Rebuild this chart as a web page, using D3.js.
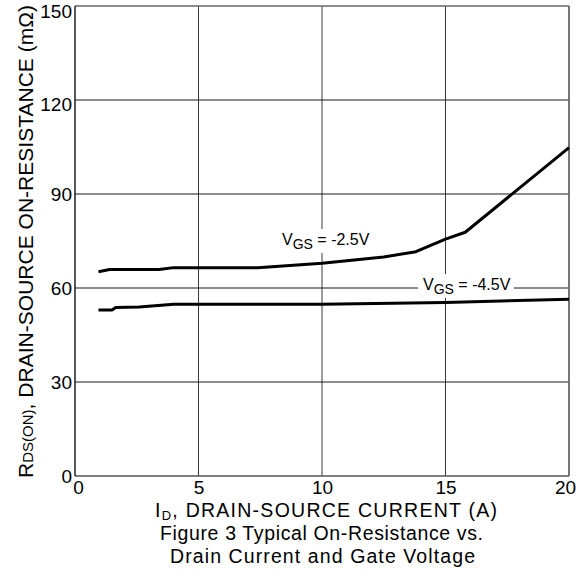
<!DOCTYPE html>
<html>
<head>
<meta charset="utf-8">
<script src="https://cdn.jsdelivr.net/npm/d3@7"></script>
<style>
  html, body { margin: 0; padding: 0; background: #fff; }
  svg { display: block; font-family: "Liberation Sans", Arial, Helvetica, sans-serif; }
</style>
</head>
<body>
<svg id="chart" width="580" height="577"></svg>
<script>
// Drain current (A) and on-resistance (mΩ) for each gate voltage
const idVgs25 = [0.95, 1.4, 3.4, 4.0, 7.4, 10.0, 12.5, 13.8, 15.0, 15.8, 20.0];
const rdsVgs25 = [65.2, 65.9, 65.9, 66.5, 66.5, 67.9, 69.9, 71.6, 75.6, 77.8, 104.8];
const idVgs45 = [0.95, 1.5, 1.65, 2.6, 4.0, 10.0, 15.0, 20.0];
const rdsVgs45 = [53.0, 53.0, 53.8, 53.9, 54.8, 54.8, 55.4, 56.4];

const xTicks = [0, 5, 10, 15, 20];
const yTicks = [0, 30, 60, 90, 120, 150];
const seriesLabels = ["-2.5V", "-4.5V"];

const svg = d3.select("#chart");
const plotL = 75, plotR = 569, plotT = 6, plotB = 476;

const x = d3.scaleLinear().domain([0, 20]).range([plotL, plotR]);
const y = d3.scaleLinear().domain([0, 150]).range([plotB, plotT]);

// Grid lines
const grid = svg.append("g");
grid.selectAll("line.v").data(xTicks.slice(1, -1)).join("line")
  .attr("x1", d => x(d)).attr("x2", d => x(d))
  .attr("y1", plotT).attr("y2", plotB)
  .attr("stroke", "#3a3a3a").attr("stroke-width", 1);
grid.selectAll("line.h").data(yTicks.slice(1, -1)).join("line")
  .attr("x1", plotL).attr("x2", plotR)
  .attr("y1", d => y(d)).attr("y2", d => y(d))
  .attr("stroke", "#1a1a1a").attr("stroke-width", 1);

// Frame
svg.append("line").attr("x1", plotL).attr("x2", plotR).attr("y1", plotT).attr("y2", plotT)
  .attr("stroke", "#666").attr("stroke-width", 1.6);
svg.append("line").attr("x1", plotR).attr("x2", plotR).attr("y1", plotT).attr("y2", plotB)
  .attr("stroke", "#666").attr("stroke-width", 1.8);
svg.append("line").attr("x1", plotL).attr("x2", plotR).attr("y1", plotB).attr("y2", plotB)
  .attr("stroke", "#555").attr("stroke-width", 1.4);
svg.append("line").attr("x1", plotL).attr("x2", plotL).attr("y1", plotT).attr("y2", plotB)
  .attr("stroke", "#111").attr("stroke-width", 1.4);

// Axes tick labels
const xAxis = d3.axisBottom(x).tickValues(xTicks).tickSize(0).tickPadding(0);
const gx = svg.append("g").attr("transform", `translate(0,${plotB})`).call(xAxis);
gx.select(".domain").remove();
gx.selectAll("text").attr("font-size", 19).attr("fill", "#000")
  .attr("font-family", "Liberation Sans, Arial, sans-serif")
  .attr("dy", null).attr("y", 18)
  .attr("dx", d => d === 0 ? 3 : (d === 20 ? -4 : 0));

const yAxis = d3.axisLeft(y).tickValues(yTicks).tickSize(0).tickPadding(3);
const gy = svg.append("g").attr("transform", `translate(${plotL},0)`).call(yAxis);
gy.select(".domain").remove();
gy.selectAll("text").attr("font-size", 19).attr("fill", "#000")
  .attr("font-family", "Liberation Sans, Arial, sans-serif")
  .attr("dy", d => d === 150 ? "0.62em" : (d === 120 ? "0.55em" : "0.35em"));

// Curves
const line = d3.line().x(d => x(d[0])).y(d => y(d[1]));
const s25 = idVgs25.map((v, i) => [v, rdsVgs25[i]]);
const s45 = idVgs45.map((v, i) => [v, rdsVgs45[i]]);
[s25, s45].forEach(s => {
  svg.append("path").datum(s).attr("d", line)
    .attr("fill", "none").attr("stroke", "#000").attr("stroke-width", 3)
    .attr("stroke-linejoin", "round");
});

// Curve labels with white backing
function vgsLabel(px, py, value) {
  const g = svg.append("g");
  const bg = g.append("rect").attr("fill", "#fff");
  const t = g.append("text").attr("x", px).attr("y", py)
    .attr("font-size", 16).attr("fill", "#000");
  t.append("tspan").text("V");
  t.append("tspan").attr("font-size", 14).attr("dy", 4).text("GS");
  t.append("tspan").attr("dy", -4).text(" =  " + value);
  const b = t.node().getBBox();
  bg.attr("x", b.x - 5).attr("y", b.y - 2).attr("width", b.width + 8).attr("height", b.height + 3);
}
vgsLabel(282, 245, seriesLabels[0]);
vgsLabel(423, 290, seriesLabels[1]);

// Axis titles
const xt = svg.append("text").attr("x", 326).attr("y", 516.5)
  .attr("text-anchor", "middle").attr("font-size", 19.5).attr("fill", "#000")
  .attr("textLength", 342).attr("lengthAdjust", "spacing");
xt.append("tspan").text("I");
xt.append("tspan").attr("font-size", 13).attr("dy", 3).text("D");
xt.append("tspan").attr("dy", -3).text(", DRAIN-SOURCE CURRENT (A)");

svg.append("text").attr("x", 321.5).attr("y", 540).attr("text-anchor", "middle")
  .attr("font-size", 19.5).attr("fill", "#000")
  .attr("textLength", 323).attr("lengthAdjust", "spacing")
  .text("Figure 3 Typical On-Resistance vs.");
svg.append("text").attr("x", 322.5).attr("y", 562.5).attr("text-anchor", "middle")
  .attr("font-size", 19.5).attr("fill", "#000")
  .attr("textLength", 305).attr("lengthAdjust", "spacing")
  .text("Drain Current and Gate Voltage");

const yt = svg.append("text")
  .attr("transform", "translate(33,241.5) rotate(-90)")
  .attr("text-anchor", "middle").attr("font-size", 21).attr("fill", "#000")
  .attr("textLength", 473).attr("lengthAdjust", "spacing");
yt.append("tspan").text("R");
yt.append("tspan").attr("font-size", 15).text("DS(ON)");
yt.append("tspan").text(", DRAIN-SOURCE ON-RESISTANCE (mΩ)");
</script>
</body>
</html>
